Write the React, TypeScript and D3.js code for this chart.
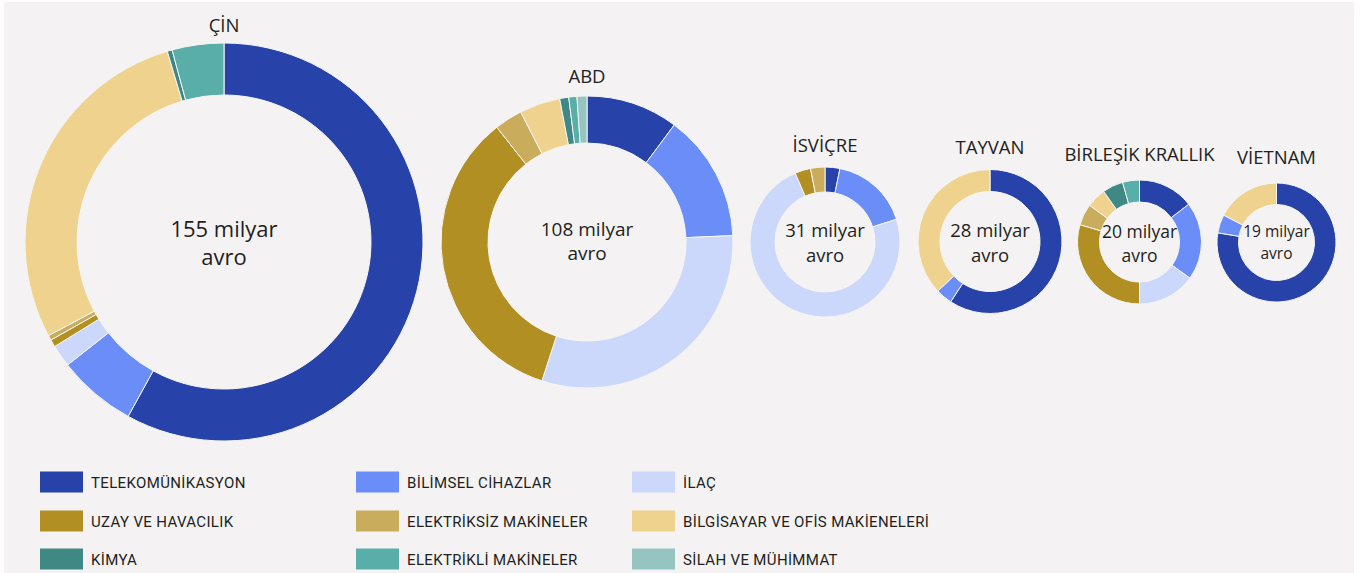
import React from "react";
import * as d3 from "d3";

// ---------- DATA ----------
const sectors = [
  "TELEKOMÜNİKASYON",
  "BİLİMSEL CİHAZLAR",
  "İLAÇ",
  "UZAY VE HAVACILIK",
  "ELEKTRİKSİZ MAKİNELER",
  "BİLGİSAYAR VE OFİS MAKİENELERİ",
  "KİMYA",
  "ELEKTRİKLİ MAKİNELER",
  "SİLAH VE MÜHİMMAT",
];
const countries = ["ÇİN", "ABD", "İSVİÇRE", "TAYVAN", "BİRLEŞİK KRALLIK", "VİETNAM"];
const totals = [155, 108, 31, 28, 20, 19];
// shares (%) in sector order
const chinaShares = [58.0, 6.4, 1.8, 0.6, 0.4, 28.2, 0.4, 4.2, 0];
const usaShares = [10.2, 14.1, 30.7, 34.4, 3.1, 4.5, 1.0, 0.9, 1.1];
const switzerlandShares = [3.2, 16.9, 73.4, 3.4, 3.1, 0, 0, 0, 0];
const taiwanShares = [59.2, 3.7, 0, 0, 0, 37.1, 0, 0, 0];
const ukShares = [14.6, 20.3, 15.1, 29.5, 5.6, 5.1, 5.4, 4.4, 0];
const vietnamShares = [77.6, 5.0, 0, 0, 0, 17.4, 0, 0, 0];
const shares = [chinaShares, usaShares, switzerlandShares, taiwanShares, ukShares, vietnamShares];

// ---------- STYLE / LAYOUT ----------
const colors = [
  "#2742a8",
  "#6a8df7",
  "#cbd8fb",
  "#b28f22",
  "#c9ad5c",
  "#efd28d",
  "#3e8984",
  "#5aaea9",
  "#94c5c1",
];
const layout = [
  { cx: 224, cy: 242, r: 199, ir: 147, title: 32, fs: 22, l1: 237, l2: 265 },
  { cx: 587, cy: 242, r: 146, ir: 99, title: 83, fs: 19, l1: 236, l2: 260 },
  { cx: 825, cy: 242, r: 75, ir: 50, title: 152, fs: 18.5, l1: 237, l2: 262 },
  { cx: 990, cy: 241.5, r: 72, ir: 50, title: 154, fs: 18.5, l1: 237, l2: 262 },
  { cx: 1139.5, cy: 242, r: 62, ir: 40, title: 161, fs: 17.5, l1: 238, l2: 262 },
  { cx: 1276.5, cy: 242.5, r: 59.5, ir: 38, title: 164, fs: 15.5, l1: 237, l2: 259 },
];
const legendCols = [40, 356, 632];
const legendRows = [482, 521, 559];

const TEXT = "#231f20";
const FONT = "'Open Sans', 'Noto Sans', sans-serif";

export default function App() {
  const pie = d3
    .pie<number>()
    .sort(null)
    .value((d) => d);

  return (
    <svg
      width={1363}
      height={573}
      style={{ position: "absolute", left: 0, top: 0, display: "block" }}
    >
      <rect x={0} y={0} width={1363} height={573} fill="#ffffff" />
      <rect x={4} y={2} width={1350} height={571} fill="#f4f2f3" />
      {countries.map((name, ci) => {
        const L = layout[ci];
        const arc = d3.arc<d3.PieArcDatum<number>>().innerRadius(L.ir).outerRadius(L.r);
        const arcs = pie(shares[ci]);
        return (
          <g key={name}>
            <g transform={`translate(${L.cx},${L.cy})`}>
              {arcs.map((a, i) =>
                a.value > 0 ? (
                  <path
                    key={i}
                    d={arc(a) || ""}
                    fill={colors[i]}
                    stroke="#f7f6f4"
                    strokeWidth={1}
                    strokeLinejoin="round"
                  />
                ) : null
              )}
            </g>
            <text
              x={L.cx}
              y={L.title}
              textAnchor="middle"
              fontFamily={FONT}
              fontSize={18.5}
              fill={TEXT}
            >
              {name}
            </text>
            <text textAnchor="middle" fontFamily={FONT} fontSize={L.fs} fill={TEXT}>
              <tspan x={L.cx} y={L.l1}>{`${totals[ci]} milyar`}</tspan>
              <tspan x={L.cx} y={L.l2}>avro</tspan>
            </text>
          </g>
        );
      })}
      {sectors.map((s, i) => {
        const col = i % 3;
        const row = Math.floor(i / 3);
        const x = legendCols[col];
        const y = legendRows[row];
        return (
          <g key={s}>
            <rect x={x} y={y - 10.5} width={43} height={21} fill={colors[i]} />
            <text
              x={x + 51}
              y={y + 5.5}
              fontFamily="Roboto, 'Liberation Sans', sans-serif"
              fontSize={15}
              letterSpacing={0.35}
              fill={TEXT}
            >
              {s}
            </text>
          </g>
        );
      })}
    </svg>
  );
}
